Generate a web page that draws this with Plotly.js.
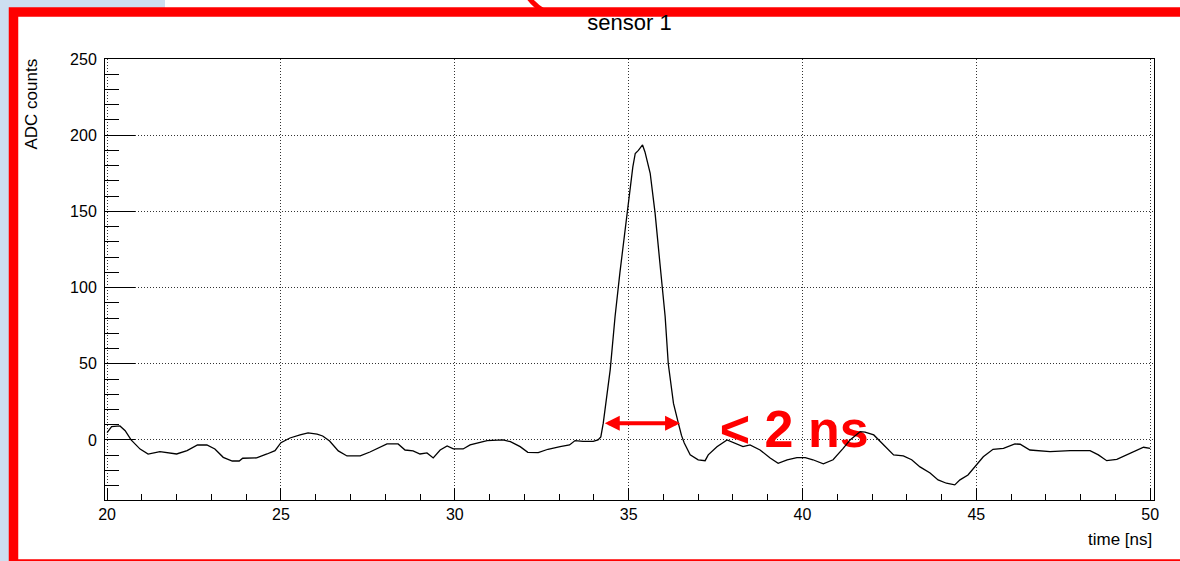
<!DOCTYPE html>
<html>
<head>
<meta charset="utf-8">
<script src="https://cdn.plot.ly/plotly-3.0.1.min.js"></script>
<style>
  html, body { margin: 0; padding: 0; background: #ffffff; }
  #chart { width: 1180px; height: 561px; }
</style>
</head>
<body>
<div id="chart"></div>
<script>
// Sensor 1 waveform: sample time [ns] and ADC counts
const timeNs = [
  20.00, 20.13, 20.37, 20.52, 20.69, 20.95, 21.18, 21.52, 22.00, 22.30,
  22.60, 22.87, 23.10, 23.34, 23.60, 23.80, 23.90, 24.30, 24.60, 24.83,
  25.00, 25.26, 25.55, 25.78, 26.04, 26.20, 26.40, 26.65, 26.90, 27.28,
  27.56, 27.85, 28.05, 28.37, 28.57, 28.80, 29.00, 29.20, 29.38, 29.58,
  29.78, 29.96, 30.24, 30.44, 30.93, 31.39, 31.60, 31.88, 32.10, 32.40,
  32.68, 33.03, 33.30, 33.46, 33.69, 33.98, 34.12, 34.20, 34.27, 34.47,
  34.61, 34.75, 34.90, 35.02, 35.12, 35.19, 35.28, 35.40, 35.47, 35.62,
  35.76, 35.90, 36.05, 36.14, 36.29, 36.43, 36.52, 36.60, 36.77, 37.00,
  37.20, 37.29, 37.54, 37.83, 38.00, 38.29, 38.49, 38.78, 39.07, 39.30,
  39.56, 39.84, 40.08, 40.30, 40.60, 40.88, 41.17, 41.37, 41.66, 41.80,
  42.05, 42.33, 42.62, 42.90, 43.14, 43.38, 43.67, 43.90, 44.14, 44.38,
  44.53, 44.76, 44.96, 45.20, 45.48, 45.78, 46.11, 46.26, 46.54, 47.12,
  47.70, 48.27, 48.51, 48.75, 49.04, 49.33, 49.62, 49.81, 50.00
];
const adcCounts = [
  4.8, 8.7, 9.2, 6.1, 0.0, -6.0, -9.3, -7.6, -9.2, -7.0,
  -3.3, -3.3, -5.9, -11.4, -13.8, -13.8, -12.0, -11.8, -9.2, -7.0,
  -1.8, 1.3, 3.3, 4.6, 3.9, 2.6, -0.7, -7.2, -10.5, -10.5,
  -7.9, -4.6, -2.6, -2.6, -6.6, -7.2, -9.2, -8.5, -11.8, -6.6,
  -3.9, -5.9, -5.9, -3.2, -0.4, 0.0, -1.1, -4.4, -8.1, -8.3,
  -6.1, -4.4, -3.3, -0.4, -0.9, -0.9, 0.0, 2.0, 11, 46,
  81, 110, 138, 160, 179, 188, 190, 193.6, 189, 175,
  149, 116, 81, 50, 24, 11, 3, -2, -9.8, -13.0,
  -13.6, -9.8, -4.4, 0.0, -1.7, -4.4, -3.3, -6.6, -11.8, -15.3,
  -13.0, -11.6, -11.6, -13.0, -15.7, -13.0, -5.5, 0.0, 5.5, 5.2,
  3.3, -3.3, -9.8, -10.5, -13.0, -17.7, -21.7, -26.2, -28.4, -29.5,
  -26.2, -23.0, -17.7, -11.0, -6.1, -5.5, -2.6, -2.8, -6.6, -7.7,
  -7.0, -7.0, -9.8, -13.6, -12.7, -9.8, -7.0, -4.8, -5.5
];

// Pulse width marker: start/end time of the pulse at the marked level
const widthSpanNs = [34.27, 36.48];
const widthLevel = [11];
const widthLabel = ['< 2 ns'];
const widthLabelPos = { t: 37.62, adc: 4.0 };

const chartTitle = 'sensor 1';
const xTitle = 'time [ns]';
const yTitle = 'ADC counts';

// Page geometry (pixels)
const W = 1180, H = 561;
const M = { l: 105, r: 26, t: 59, b: 61 };
const PW = W - M.l - M.r, PH = H - M.t - M.b;
const px = v => (v - M.l) / PW;          // page x pixel -> paper x
const py = v => (H - M.b - v) / PH;      // page y pixel -> paper y

const FONT = 'Liberation Sans, Arial, Helvetica, sans-serif';
const RED = '#ff0000';
const SLIDE_BLUE = '#cddff1';

const traces = [
  {
    // the width label sits under the waveform
    type: 'scatter', mode: 'text',
    x: [widthLabelPos.t], y: [widthLabelPos.adc],
    text: widthLabel,
    textposition: 'middle right',
    textfont: { family: FONT, size: 52, color: RED, weight: 'bold' },
    hoverinfo: 'skip', showlegend: false, cliponaxis: false
  },
  {
    type: 'scatter', mode: 'lines',
    x: timeNs, y: adcCounts,
    line: { color: '#000000', width: 1.3, shape: 'linear' },
    showlegend: false
  }
];

const gridDash = '1px,2px';
const layout = {
  width: W, height: H,
  margin: M,
  paper_bgcolor: '#ffffff',
  plot_bgcolor: '#ffffff',
  font: { family: FONT, color: '#000000', size: 16 },
  showlegend: false,
  title: {
    text: chartTitle,
    font: { family: FONT, size: 22, color: '#000000' },
    xref: 'paper', x: 0.5, xanchor: 'center',
    yref: 'container', y: 1 - 22 / H, yanchor: 'middle'
  },
  xaxis: {
    range: [19.94, 50.11],
    tick0: 0, dtick: 5,
    ticks: 'inside', ticklen: 12, tickwidth: 1, tickcolor: '#000000',
    minor: { dtick: 1, ticks: 'inside', ticklen: 6, tickwidth: 1, tickcolor: '#000000', showgrid: false },
    showgrid: true, gridcolor: '#333333', gridwidth: 1, griddash: gridDash,
    zeroline: false,
    showline: true, linecolor: '#000000', linewidth: 1, mirror: true,
    tickfont: { family: FONT, size: 16, color: '#000000' },
    fixedrange: true
  },
  yaxis: {
    range: [-39.4, 250],
    tick0: 0, dtick: 50,
    ticks: 'inside', ticklen: 30, tickwidth: 1, tickcolor: '#000000',
    minor: { dtick: 10, ticks: 'inside', ticklen: 14, tickwidth: 1, tickcolor: '#000000', showgrid: false },
    showgrid: true, gridcolor: '#333333', gridwidth: 1, griddash: gridDash,
    zeroline: false,
    showline: true, linecolor: '#000000', linewidth: 1, mirror: true,
    tickfont: { family: FONT, size: 16, color: '#000000' },
    ticklabelstandoff: 4,
    fixedrange: true
  },
  annotations: [
    {
      // double-headed arrow spanning the pulse width
      xref: 'x', yref: 'y', axref: 'x', ayref: 'y',
      x: widthSpanNs[1], y: widthLevel[0],
      ax: widthSpanNs[0], ay: widthLevel[0],
      text: '', showarrow: true,
      arrowside: 'end+start', arrowhead: 2, arrowsize: 0.75,
      arrowwidth: 4, arrowcolor: RED
    },
    {
      xref: 'paper', yref: 'paper',
      x: 1.0, y: py(539), xanchor: 'right', yanchor: 'middle',
      text: xTitle, showarrow: false,
      font: { family: FONT, size: 17, color: '#000000' }
    },
    {
      xref: 'paper', yref: 'paper',
      x: px(31), y: py(57), xanchor: 'center', yanchor: 'top',
      text: yTitle, textangle: -90, showarrow: false,
      font: { family: FONT, size: 17, color: '#000000' }
    }
  ],
  shapes: [
    // slide background strips
    { type: 'rect', xref: 'paper', yref: 'paper', layer: 'below',
      x0: px(0), x1: px(9), y0: py(H), y1: py(0),
      fillcolor: SLIDE_BLUE, line: { width: 0 } },
    { type: 'rect', xref: 'paper', yref: 'paper', layer: 'below',
      x0: px(0), x1: px(165), y0: py(8), y1: py(0),
      fillcolor: SLIDE_BLUE, line: { width: 0 } },
    // red highlight frame
    { type: 'rect', xref: 'paper', yref: 'paper', layer: 'above',
      x0: px(13.5), x1: px(1200), y0: py(564), y1: py(12),
      fillcolor: 'rgba(0,0,0,0)', line: { color: RED, width: 9.5 } },
    // tail of a callout stroke entering from above
    { type: 'path', xref: 'paper', yref: 'paper', layer: 'above',
      path: 'M ' + px(529) + ',' + py(-2) + ' Q ' + px(535) + ',' + py(6) + ' ' + px(545) + ',' + py(12),
      line: { color: RED, width: 5 } }
  ]
};

Plotly.newPlot('chart', traces, layout, { displayModeBar: false, staticPlot: true });
</script>
</body>
</html>
